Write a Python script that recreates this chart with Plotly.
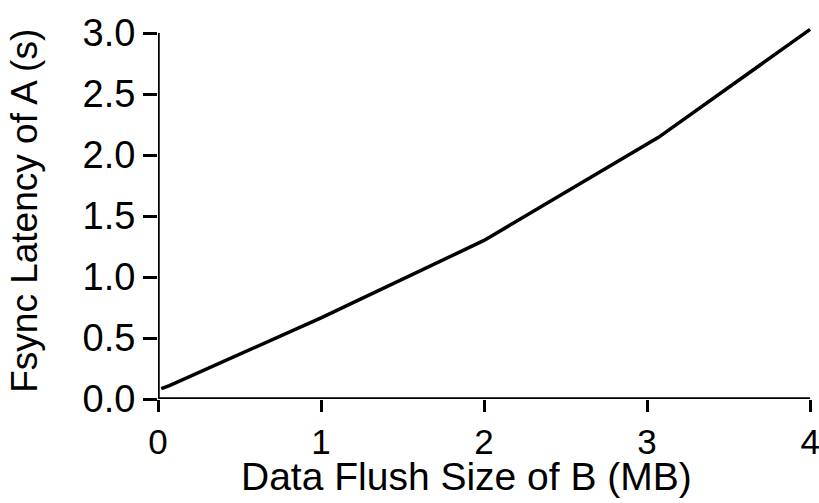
import plotly.graph_objects as go

flush_mb = [0.02, 0.07, 1.0, 2.0, 3.07, 4.0]
latency_s = [0.085, 0.11, 0.665, 1.30, 2.145, 3.03]

x_ticks = [0, 1, 2, 3, 4]
y_ticks = [0.0, 0.5, 1.0, 1.5, 2.0, 2.5, 3.0]
y_tick_text = ["0.0", "0.5", "1.0", "1.5", "2.0", "2.5", "3.0"]

x_title = "Data Flush Size of B (MB)"
y_title = "Fsync Latency of A (s)"

FONT = "Liberation Sans, Arial, sans-serif"

fig = go.Figure()
fig.add_trace(go.Scatter(x=flush_mb, y=latency_s, mode="lines",
                         line=dict(color="black", width=3.5), cliponaxis=False,
                         showlegend=False))

# axis lines limited to the tick span
fig.add_shape(type="line", xref="x", yref="y", x0=0, x1=x_ticks[-1], y0=0, y1=0,
              line=dict(color="black", width=3.5))
fig.add_shape(type="line", xref="x", yref="y", x0=0, x1=0, y0=0, y1=y_ticks[-1],
              line=dict(color="black", width=3.5))

fig.add_annotation(text=x_title, xref="paper", yref="paper", x=0.469, y=-0.207,
                   xanchor="center", yanchor="middle", showarrow=False,
                   font=dict(family=FONT, size=39, color="black"))
fig.add_annotation(text=y_title, xref="paper", yref="paper", x=-0.203, y=0.505,
                   xanchor="center", yanchor="middle", showarrow=False, textangle=-90,
                   font=dict(family=FONT, size=37, color="black"))

fig.update_layout(
    width=819, height=503,
    margin=dict(l=158, r=4, t=27, b=104, autoexpand=False),
    paper_bgcolor="white", plot_bgcolor="white",
    font=dict(family=FONT, size=38, color="black"),
    xaxis=dict(range=[0, 4.03], tickvals=x_ticks, ticks="outside", ticklen=12,
               tickwidth=3, tickcolor="black", showline=False, showgrid=False,
               zeroline=False, tickfont=dict(size=35), ticklabeloverflow="allow",
               automargin=False),
    yaxis=dict(range=[0, 3.05], tickvals=y_ticks, ticktext=y_tick_text, ticks="outside",
               ticklen=14, tickwidth=3, tickcolor="black", showline=False, showgrid=False,
               zeroline=False, tickfont=dict(size=38), automargin=False),
)

fig.write_html("out.html")
